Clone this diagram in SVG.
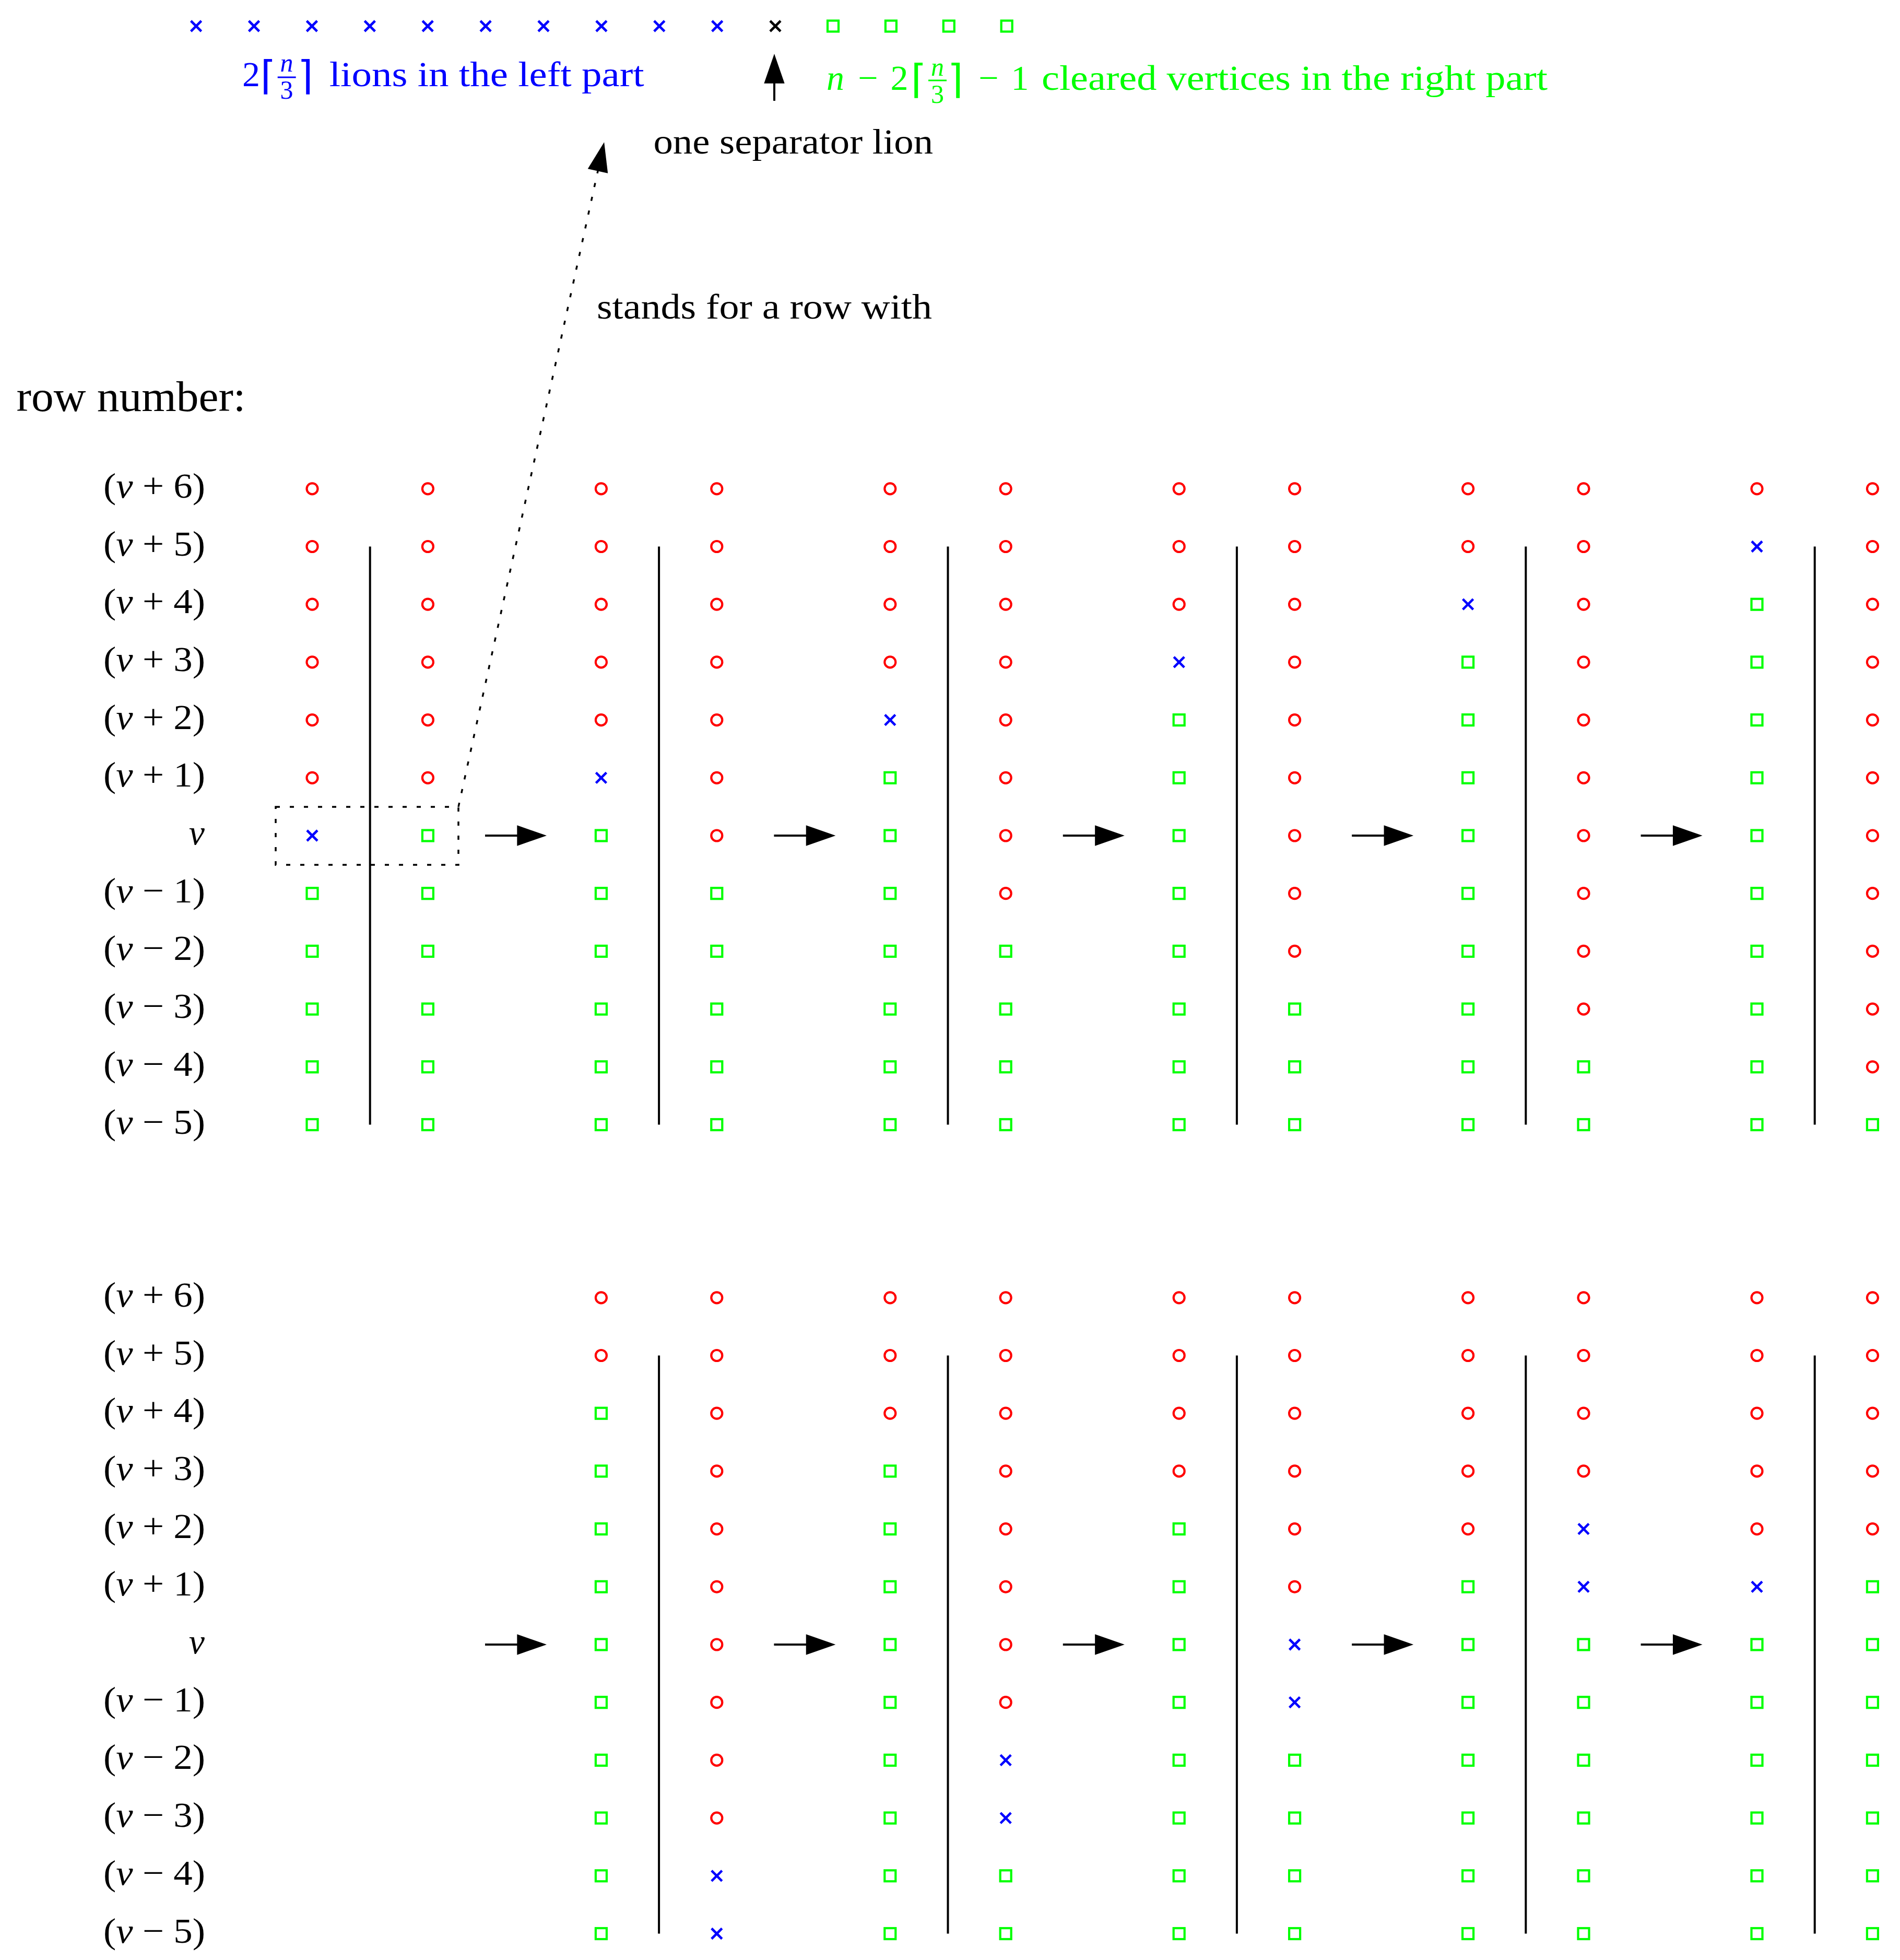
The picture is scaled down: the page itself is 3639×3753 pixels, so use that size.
<svg xmlns="http://www.w3.org/2000/svg" xmlns:xlink="http://www.w3.org/1999/xlink" width="3639" height="3753" viewBox="0 0 3639 3753">
<style>
text{font-family:"Liberation Serif","DejaVu Serif",serif;fill:#000}
.t{font-size:68px}
.big{font-size:83px}
.lab{font-size:68px;text-anchor:end}
.it{font-style:italic}
.fr{font-size:50px;text-anchor:middle}
.mid{text-anchor:middle}
.ceil{font-family:"DejaVu Sans",sans-serif;font-size:76px}
.blue{fill:#0000ff}
.green{fill:#00ff00}
.sep{stroke:#000;stroke-width:4;fill:none}
.arr{stroke:#000;stroke-width:4;fill:none;marker-end:url(#ah)}
.dot{stroke:#000;stroke-width:3.5;fill:none;stroke-dasharray:8 19}
</style>
<defs>
<marker id="ah" markerUnits="userSpaceOnUse" markerWidth="60" markerHeight="40" viewBox="0 0 51 36" refX="6" refY="18" orient="auto"><path d="M0,0.3L51,18L0,35.7z" fill="#000"/></marker>
<circle id="o" r="10.5" fill="none" stroke="#ff0000" stroke-width="4.2"/>
<rect id="s" x="-10.5" y="-10.5" width="21" height="21" fill="none" stroke="#00ff00" stroke-width="4.2"/>
<path id="x" d="M-10,-10L10,10M-10,10L10,-10" fill="none" stroke="#0000ff" stroke-width="4.6"/>
<path id="k" d="M-10,-10L10,10M-10,10L10,-10" fill="none" stroke="#000" stroke-width="4.6"/>
</defs>

<g id="legend">
<g id="legend-marks">
<use href="#x" x="375.6" y="50"/><use href="#x" x="486.5" y="50"/><use href="#x" x="597.4" y="50"/><use href="#x" x="708.3" y="50"/><use href="#x" x="819.2" y="50"/><use href="#x" x="930.1" y="50"/><use href="#x" x="1041" y="50"/><use href="#x" x="1151.9" y="50"/><use href="#x" x="1262.8" y="50"/><use href="#x" x="1373.7" y="50"/>
<use href="#k" x="1485" y="50"/>
<use href="#s" x="1595.5" y="50"/><use href="#s" x="1706.4" y="50"/><use href="#s" x="1817.3" y="50"/><use href="#s" x="1928.2" y="50"/>
</g>
<g id="legend-left" class="blue">
<text class="t blue" x="464" y="165">2</text>
<text class="ceil blue" x="499" y="171">⌈</text>
<text class="fr it blue" x="549" y="136.7">n</text>
<line x1="531.7" y1="148" x2="566.7" y2="148" stroke="#0000ff" stroke-width="3"/>
<text class="fr blue" x="549" y="189">3</text>
<text class="ceil blue" x="570" y="171">⌉</text>
<text class="t blue" x="630.7" y="165" textLength="603" lengthAdjust="spacingAndGlyphs">lions in the left part</text>
</g>
<g id="legend-right">
<text class="t it green mid" x="1600" y="172">n</text>
<text class="t green mid" x="1662.5" y="172">−</text>
<text class="t green mid" x="1722.5" y="172">2</text>
<text class="ceil green" x="1745" y="178">⌈</text>
<text class="fr it green" x="1795.5" y="145">n</text>
<line x1="1778" y1="154" x2="1813" y2="154" stroke="#00ff00" stroke-width="3"/>
<text class="fr green" x="1795.5" y="196.5">3</text>
<text class="ceil green" x="1815" y="178">⌉</text>
<text class="t green mid" x="1893.5" y="172">−</text>
<text class="t green mid" x="1953.5" y="172">1</text>
<text class="t green" x="1995" y="172" textLength="969" lengthAdjust="spacingAndGlyphs">cleared vertices in the right part</text>
</g>
<text id="sep-label" class="t" x="1251.5" y="294" textLength="535.5" lengthAdjust="spacingAndGlyphs">one separator lion</text>
<text id="row-label" class="t" x="1143" y="610" textLength="642" lengthAdjust="spacingAndGlyphs">stands for a row with</text>
<text id="rownum" class="big" x="31.6" y="787" textLength="439" lengthAdjust="spacingAndGlyphs">row number:</text>
</g>

<g id="row-labels-top">
<text class="lab" x="393" y="952.8" textLength="195" lengthAdjust="spacingAndGlyphs">(<tspan class="it">v</tspan> + 6)</text>
<text class="lab" x="393" y="1063.5" textLength="195" lengthAdjust="spacingAndGlyphs">(<tspan class="it">v</tspan> + 5)</text>
<text class="lab" x="393" y="1174.2" textLength="195" lengthAdjust="spacingAndGlyphs">(<tspan class="it">v</tspan> + 4)</text>
<text class="lab" x="393" y="1284.9" textLength="195" lengthAdjust="spacingAndGlyphs">(<tspan class="it">v</tspan> + 3)</text>
<text class="lab" x="393" y="1395.6" textLength="195" lengthAdjust="spacingAndGlyphs">(<tspan class="it">v</tspan> + 2)</text>
<text class="lab" x="393" y="1506.3" textLength="195" lengthAdjust="spacingAndGlyphs">(<tspan class="it">v</tspan> + 1)</text>
<text class="lab it" x="392" y="1617">v</text>
<text class="lab" x="393" y="1727.7" textLength="195" lengthAdjust="spacingAndGlyphs">(<tspan class="it">v</tspan> − 1)</text>
<text class="lab" x="393" y="1838.4" textLength="195" lengthAdjust="spacingAndGlyphs">(<tspan class="it">v</tspan> − 2)</text>
<text class="lab" x="393" y="1949.1" textLength="195" lengthAdjust="spacingAndGlyphs">(<tspan class="it">v</tspan> − 3)</text>
<text class="lab" x="393" y="2059.8" textLength="195" lengthAdjust="spacingAndGlyphs">(<tspan class="it">v</tspan> − 4)</text>
<text class="lab" x="393" y="2170.5" textLength="195" lengthAdjust="spacingAndGlyphs">(<tspan class="it">v</tspan> − 5)</text>
</g>
<g id="row-labels-bottom">
<text class="lab" x="393" y="2501.8" textLength="195" lengthAdjust="spacingAndGlyphs">(<tspan class="it">v</tspan> + 6)</text>
<text class="lab" x="393" y="2612.5" textLength="195" lengthAdjust="spacingAndGlyphs">(<tspan class="it">v</tspan> + 5)</text>
<text class="lab" x="393" y="2723.2" textLength="195" lengthAdjust="spacingAndGlyphs">(<tspan class="it">v</tspan> + 4)</text>
<text class="lab" x="393" y="2833.9" textLength="195" lengthAdjust="spacingAndGlyphs">(<tspan class="it">v</tspan> + 3)</text>
<text class="lab" x="393" y="2944.6" textLength="195" lengthAdjust="spacingAndGlyphs">(<tspan class="it">v</tspan> + 2)</text>
<text class="lab" x="393" y="3055.3" textLength="195" lengthAdjust="spacingAndGlyphs">(<tspan class="it">v</tspan> + 1)</text>
<text class="lab it" x="392" y="3166">v</text>
<text class="lab" x="393" y="3276.7" textLength="195" lengthAdjust="spacingAndGlyphs">(<tspan class="it">v</tspan> − 1)</text>
<text class="lab" x="393" y="3387.4" textLength="195" lengthAdjust="spacingAndGlyphs">(<tspan class="it">v</tspan> − 2)</text>
<text class="lab" x="393" y="3498.1" textLength="195" lengthAdjust="spacingAndGlyphs">(<tspan class="it">v</tspan> − 3)</text>
<text class="lab" x="393" y="3608.8" textLength="195" lengthAdjust="spacingAndGlyphs">(<tspan class="it">v</tspan> − 4)</text>
<text class="lab" x="393" y="3719.5" textLength="195" lengthAdjust="spacingAndGlyphs">(<tspan class="it">v</tspan> − 5)</text>
</g>

<!-- TOP SECTION -->
<g id="top-state-0">
<g transform="translate(598,0)"><use href="#o" y="935.8"/><use href="#o" y="1046.5"/><use href="#o" y="1157.2"/><use href="#o" y="1267.9"/><use href="#o" y="1378.6"/><use href="#o" y="1489.3"/><use href="#x" y="1600"/><use href="#s" y="1710.7"/><use href="#s" y="1821.4"/><use href="#s" y="1932.1"/><use href="#s" y="2042.8"/><use href="#s" y="2153.5"/></g>
<line class="sep" x1="708.7" y1="1046.5" x2="708.7" y2="2153.5"/>
<g transform="translate(819.4,0)"><use href="#o" y="935.8"/><use href="#o" y="1046.5"/><use href="#o" y="1157.2"/><use href="#o" y="1267.9"/><use href="#o" y="1378.6"/><use href="#o" y="1489.3"/><use href="#s" y="1600"/><use href="#s" y="1710.7"/><use href="#s" y="1821.4"/><use href="#s" y="1932.1"/><use href="#s" y="2042.8"/><use href="#s" y="2153.5"/></g>
</g>
<g id="top-state-1">
<g transform="translate(1151.4,0)"><use href="#o" y="935.8"/><use href="#o" y="1046.5"/><use href="#o" y="1157.2"/><use href="#o" y="1267.9"/><use href="#o" y="1378.6"/><use href="#x" y="1489.3"/><use href="#s" y="1600"/><use href="#s" y="1710.7"/><use href="#s" y="1821.4"/><use href="#s" y="1932.1"/><use href="#s" y="2042.8"/><use href="#s" y="2153.5"/></g>
<line class="sep" x1="1262.1" y1="1046.5" x2="1262.1" y2="2153.5"/>
<g transform="translate(1372.8,0)"><use href="#o" y="935.8"/><use href="#o" y="1046.5"/><use href="#o" y="1157.2"/><use href="#o" y="1267.9"/><use href="#o" y="1378.6"/><use href="#o" y="1489.3"/><use href="#o" y="1600"/><use href="#s" y="1710.7"/><use href="#s" y="1821.4"/><use href="#s" y="1932.1"/><use href="#s" y="2042.8"/><use href="#s" y="2153.5"/></g>
</g>
<g id="top-state-2">
<g transform="translate(1704.8,0)"><use href="#o" y="935.8"/><use href="#o" y="1046.5"/><use href="#o" y="1157.2"/><use href="#o" y="1267.9"/><use href="#x" y="1378.6"/><use href="#s" y="1489.3"/><use href="#s" y="1600"/><use href="#s" y="1710.7"/><use href="#s" y="1821.4"/><use href="#s" y="1932.1"/><use href="#s" y="2042.8"/><use href="#s" y="2153.5"/></g>
<line class="sep" x1="1815.5" y1="1046.5" x2="1815.5" y2="2153.5"/>
<g transform="translate(1926.2,0)"><use href="#o" y="935.8"/><use href="#o" y="1046.5"/><use href="#o" y="1157.2"/><use href="#o" y="1267.9"/><use href="#o" y="1378.6"/><use href="#o" y="1489.3"/><use href="#o" y="1600"/><use href="#o" y="1710.7"/><use href="#s" y="1821.4"/><use href="#s" y="1932.1"/><use href="#s" y="2042.8"/><use href="#s" y="2153.5"/></g>
</g>
<g id="top-state-3">
<g transform="translate(2258.2,0)"><use href="#o" y="935.8"/><use href="#o" y="1046.5"/><use href="#o" y="1157.2"/><use href="#x" y="1267.9"/><use href="#s" y="1378.6"/><use href="#s" y="1489.3"/><use href="#s" y="1600"/><use href="#s" y="1710.7"/><use href="#s" y="1821.4"/><use href="#s" y="1932.1"/><use href="#s" y="2042.8"/><use href="#s" y="2153.5"/></g>
<line class="sep" x1="2368.9" y1="1046.5" x2="2368.9" y2="2153.5"/>
<g transform="translate(2479.6,0)"><use href="#o" y="935.8"/><use href="#o" y="1046.5"/><use href="#o" y="1157.2"/><use href="#o" y="1267.9"/><use href="#o" y="1378.6"/><use href="#o" y="1489.3"/><use href="#o" y="1600"/><use href="#o" y="1710.7"/><use href="#o" y="1821.4"/><use href="#s" y="1932.1"/><use href="#s" y="2042.8"/><use href="#s" y="2153.5"/></g>
</g>
<g id="top-state-4">
<g transform="translate(2811.6,0)"><use href="#o" y="935.8"/><use href="#o" y="1046.5"/><use href="#x" y="1157.2"/><use href="#s" y="1267.9"/><use href="#s" y="1378.6"/><use href="#s" y="1489.3"/><use href="#s" y="1600"/><use href="#s" y="1710.7"/><use href="#s" y="1821.4"/><use href="#s" y="1932.1"/><use href="#s" y="2042.8"/><use href="#s" y="2153.5"/></g>
<line class="sep" x1="2922.3" y1="1046.5" x2="2922.3" y2="2153.5"/>
<g transform="translate(3033,0)"><use href="#o" y="935.8"/><use href="#o" y="1046.5"/><use href="#o" y="1157.2"/><use href="#o" y="1267.9"/><use href="#o" y="1378.6"/><use href="#o" y="1489.3"/><use href="#o" y="1600"/><use href="#o" y="1710.7"/><use href="#o" y="1821.4"/><use href="#o" y="1932.1"/><use href="#s" y="2042.8"/><use href="#s" y="2153.5"/></g>
</g>
<g id="top-state-5">
<g transform="translate(3365,0)"><use href="#o" y="935.8"/><use href="#x" y="1046.5"/><use href="#s" y="1157.2"/><use href="#s" y="1267.9"/><use href="#s" y="1378.6"/><use href="#s" y="1489.3"/><use href="#s" y="1600"/><use href="#s" y="1710.7"/><use href="#s" y="1821.4"/><use href="#s" y="1932.1"/><use href="#s" y="2042.8"/><use href="#s" y="2153.5"/></g>
<line class="sep" x1="3475.7" y1="1046.5" x2="3475.7" y2="2153.5"/>
<g transform="translate(3586.4,0)"><use href="#o" y="935.8"/><use href="#o" y="1046.5"/><use href="#o" y="1157.2"/><use href="#o" y="1267.9"/><use href="#o" y="1378.6"/><use href="#o" y="1489.3"/><use href="#o" y="1600"/><use href="#o" y="1710.7"/><use href="#o" y="1821.4"/><use href="#o" y="1932.1"/><use href="#o" y="2042.8"/><use href="#s" y="2153.5"/></g>
</g>

<!-- BOTTOM SECTION -->
<g id="bottom-state-1">
<g transform="translate(1151.4,0)"><use href="#o" y="2484.8"/><use href="#o" y="2595.5"/><use href="#s" y="2706.2"/><use href="#s" y="2816.9"/><use href="#s" y="2927.6"/><use href="#s" y="3038.3"/><use href="#s" y="3149"/><use href="#s" y="3259.7"/><use href="#s" y="3370.4"/><use href="#s" y="3481.1"/><use href="#s" y="3591.8"/><use href="#s" y="3702.5"/></g>
<line class="sep" x1="1262.1" y1="2595.5" x2="1262.1" y2="3702.5"/>
<g transform="translate(1372.8,0)"><use href="#o" y="2484.8"/><use href="#o" y="2595.5"/><use href="#o" y="2706.2"/><use href="#o" y="2816.9"/><use href="#o" y="2927.6"/><use href="#o" y="3038.3"/><use href="#o" y="3149"/><use href="#o" y="3259.7"/><use href="#o" y="3370.4"/><use href="#o" y="3481.1"/><use href="#x" y="3591.8"/><use href="#x" y="3702.5"/></g>
</g>
<g id="bottom-state-2">
<g transform="translate(1704.8,0)"><use href="#o" y="2484.8"/><use href="#o" y="2595.5"/><use href="#o" y="2706.2"/><use href="#s" y="2816.9"/><use href="#s" y="2927.6"/><use href="#s" y="3038.3"/><use href="#s" y="3149"/><use href="#s" y="3259.7"/><use href="#s" y="3370.4"/><use href="#s" y="3481.1"/><use href="#s" y="3591.8"/><use href="#s" y="3702.5"/></g>
<line class="sep" x1="1815.5" y1="2595.5" x2="1815.5" y2="3702.5"/>
<g transform="translate(1926.2,0)"><use href="#o" y="2484.8"/><use href="#o" y="2595.5"/><use href="#o" y="2706.2"/><use href="#o" y="2816.9"/><use href="#o" y="2927.6"/><use href="#o" y="3038.3"/><use href="#o" y="3149"/><use href="#o" y="3259.7"/><use href="#x" y="3370.4"/><use href="#x" y="3481.1"/><use href="#s" y="3591.8"/><use href="#s" y="3702.5"/></g>
</g>
<g id="bottom-state-3">
<g transform="translate(2258.2,0)"><use href="#o" y="2484.8"/><use href="#o" y="2595.5"/><use href="#o" y="2706.2"/><use href="#o" y="2816.9"/><use href="#s" y="2927.6"/><use href="#s" y="3038.3"/><use href="#s" y="3149"/><use href="#s" y="3259.7"/><use href="#s" y="3370.4"/><use href="#s" y="3481.1"/><use href="#s" y="3591.8"/><use href="#s" y="3702.5"/></g>
<line class="sep" x1="2368.9" y1="2595.5" x2="2368.9" y2="3702.5"/>
<g transform="translate(2479.6,0)"><use href="#o" y="2484.8"/><use href="#o" y="2595.5"/><use href="#o" y="2706.2"/><use href="#o" y="2816.9"/><use href="#o" y="2927.6"/><use href="#o" y="3038.3"/><use href="#x" y="3149"/><use href="#x" y="3259.7"/><use href="#s" y="3370.4"/><use href="#s" y="3481.1"/><use href="#s" y="3591.8"/><use href="#s" y="3702.5"/></g>
</g>
<g id="bottom-state-4">
<g transform="translate(2811.6,0)"><use href="#o" y="2484.8"/><use href="#o" y="2595.5"/><use href="#o" y="2706.2"/><use href="#o" y="2816.9"/><use href="#o" y="2927.6"/><use href="#s" y="3038.3"/><use href="#s" y="3149"/><use href="#s" y="3259.7"/><use href="#s" y="3370.4"/><use href="#s" y="3481.1"/><use href="#s" y="3591.8"/><use href="#s" y="3702.5"/></g>
<line class="sep" x1="2922.3" y1="2595.5" x2="2922.3" y2="3702.5"/>
<g transform="translate(3033,0)"><use href="#o" y="2484.8"/><use href="#o" y="2595.5"/><use href="#o" y="2706.2"/><use href="#o" y="2816.9"/><use href="#x" y="2927.6"/><use href="#x" y="3038.3"/><use href="#s" y="3149"/><use href="#s" y="3259.7"/><use href="#s" y="3370.4"/><use href="#s" y="3481.1"/><use href="#s" y="3591.8"/><use href="#s" y="3702.5"/></g>
</g>
<g id="bottom-state-5">
<g transform="translate(3365,0)"><use href="#o" y="2484.8"/><use href="#o" y="2595.5"/><use href="#o" y="2706.2"/><use href="#o" y="2816.9"/><use href="#o" y="2927.6"/><use href="#x" y="3038.3"/><use href="#s" y="3149"/><use href="#s" y="3259.7"/><use href="#s" y="3370.4"/><use href="#s" y="3481.1"/><use href="#s" y="3591.8"/><use href="#s" y="3702.5"/></g>
<line class="sep" x1="3475.7" y1="2595.5" x2="3475.7" y2="3702.5"/>
<g transform="translate(3586.4,0)"><use href="#o" y="2484.8"/><use href="#o" y="2595.5"/><use href="#o" y="2706.2"/><use href="#o" y="2816.9"/><use href="#o" y="2927.6"/><use href="#s" y="3038.3"/><use href="#s" y="3149"/><use href="#s" y="3259.7"/><use href="#s" y="3370.4"/><use href="#s" y="3481.1"/><use href="#s" y="3591.8"/><use href="#s" y="3702.5"/></g>
</g>

<g id="connectors">
<rect class="dot" x="528" y="1545" width="350" height="111"/>
<line class="dot" x1="878" y1="1545" x2="1146.4" y2="321" marker-end="url(#ah)"/>
<line class="arr" x1="1483" y1="193" x2="1483" y2="153"/>
<line class="arr" x1="929" y1="1600" x2="997" y2="1600"/>
<line class="arr" x1="1482.4" y1="1600" x2="1550.4" y2="1600"/>
<line class="arr" x1="2035.8" y1="1600" x2="2103.8" y2="1600"/>
<line class="arr" x1="2589.2" y1="1600" x2="2657.2" y2="1600"/>
<line class="arr" x1="3142.6" y1="1600" x2="3210.6" y2="1600"/>
<line class="arr" x1="929" y1="3149" x2="997" y2="3149"/>
<line class="arr" x1="1482.4" y1="3149" x2="1550.4" y2="3149"/>
<line class="arr" x1="2035.8" y1="3149" x2="2103.8" y2="3149"/>
<line class="arr" x1="2589.2" y1="3149" x2="2657.2" y2="3149"/>
<line class="arr" x1="3142.6" y1="3149" x2="3210.6" y2="3149"/>
</g>
</svg>
